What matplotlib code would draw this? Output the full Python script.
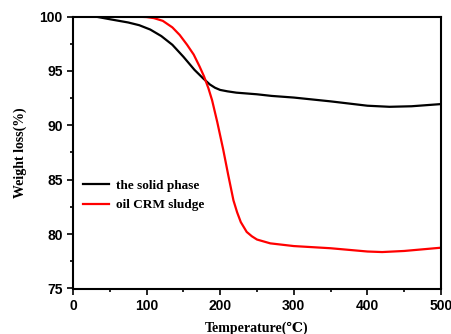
import numpy as np
import matplotlib.pyplot as plt
from matplotlib.ticker import MultipleLocator

# temperature (C) and weight (%)
temp_solid = [30, 50, 75, 90, 105, 120, 135, 150, 165, 177, 186, 193, 200, 210, 222, 250, 270, 300, 350,
              400, 430, 460, 500]
wt_solid = [100.0, 99.75, 99.45, 99.2, 98.8, 98.2, 97.4, 96.3, 95.1, 94.3, 93.75, 93.45, 93.25, 93.12, 93.0,
            92.85, 92.7, 92.55, 92.2, 91.8, 91.7, 91.75, 91.95]

temp_sludge = [30, 80, 100, 110, 122, 135, 145, 155, 164, 172, 178, 184, 189, 196, 204, 211, 218, 223, 228,
               236, 243, 250, 268, 300, 350, 400, 420, 450, 500]
wt_sludge = [100.0, 100.0, 99.95, 99.85, 99.6, 99.0, 98.3, 97.4, 96.5, 95.4, 94.5, 93.4, 92.3, 90.3, 87.8,
             85.4, 83.1, 82.0, 81.1, 80.2, 79.8, 79.5, 79.15, 78.9, 78.7, 78.4, 78.35, 78.45, 78.75]

labels = ["the solid phase", "oil CRM sludge"]

serif = ["Liberation Serif", "DejaVu Serif", "DejaVu Sans"]

fig = plt.figure(figsize=(4.51, 3.34), dpi=100)
ax = fig.add_axes([73 / 451, 1 - 288.5 / 334, 368 / 451, 272 / 334])

ax.plot(temp_solid, wt_solid, color="black", lw=1.6, label=labels[0])
ax.plot(temp_sludge, wt_sludge, color="#ff0000", lw=1.6, label=labels[1])

ax.set_xlim(0, 500)
ax.set_ylim(75, 100)
ax.xaxis.set_major_locator(MultipleLocator(100))
ax.xaxis.set_minor_locator(MultipleLocator(50))
ax.yaxis.set_major_locator(MultipleLocator(5))
ax.yaxis.set_minor_locator(MultipleLocator(2.5))
ax.tick_params(which="major", direction="out", length=4, width=1.2, labelsize=10)
ax.tick_params(which="minor", direction="out", length=2.5, width=1.2)
for lab in ax.get_xticklabels() + ax.get_yticklabels():
    lab.set_fontweight("bold")
    lab.set_family("Liberation Sans")
for s in ax.spines.values():
    s.set_linewidth(1.5)

ax.set_xlabel("Temperature(\u2103)", family=serif, fontweight="bold", fontsize=10, labelpad=6)
ax.set_ylabel("Weight loss(%)", family=serif, fontweight="bold", fontsize=10, labelpad=9)

ax.legend(loc="center left", bbox_to_anchor=(0.026, 0.342), frameon=False,
          prop={"family": serif, "weight": "bold", "size": 9.5},
          borderpad=0, borderaxespad=0,
          handlelength=2.0, handletextpad=0.55, labelspacing=0.55)

fig.savefig("out.png", dpi=100)
